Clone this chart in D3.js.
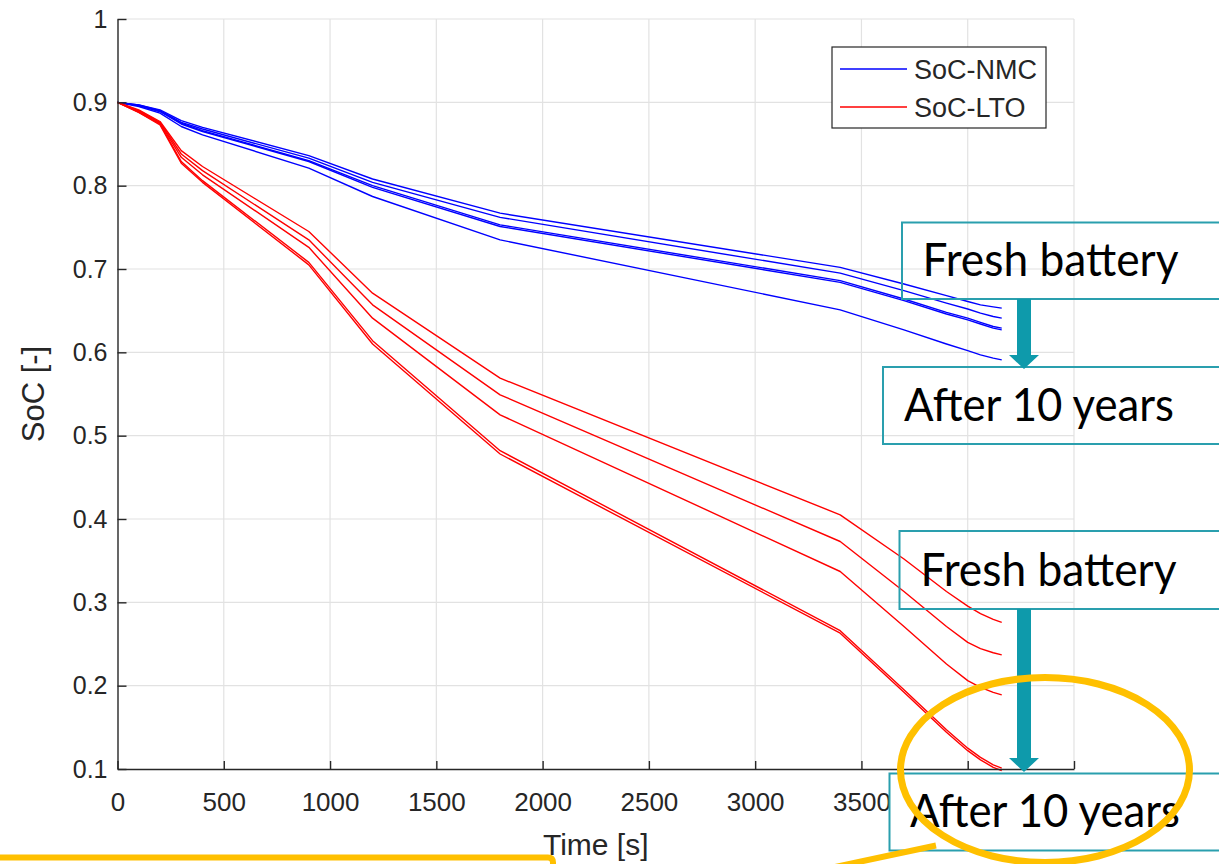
<!DOCTYPE html>
<html><head><meta charset="utf-8">
<script src="https://cdn.jsdelivr.net/npm/d3@7"></script>
<style>body{margin:0;background:#fff} svg{display:block}</style>
</head><body>
<svg id="c" width="1219" height="864"></svg>
<script>
// ---------- data ----------
const timeSec = [0, 100, 200, 300, 400, 900, 1200, 1800, 3400, 3700, 3900, 4000, 4060, 4120, 4160];
const socNMC = [
  [0.9, 0.897, 0.891, 0.878, 0.870, 0.836, 0.808, 0.767, 0.702, 0.682, 0.668, 0.661, 0.657, 0.6545, 0.653],
  [0.9, 0.897, 0.890, 0.876, 0.868, 0.833, 0.804, 0.762, 0.695, 0.674, 0.659, 0.652, 0.647, 0.643, 0.641],
  [0.9, 0.896, 0.889, 0.875, 0.866, 0.830, 0.800, 0.753, 0.686, 0.664, 0.648, 0.641, 0.636, 0.631, 0.629],
  [0.9, 0.896, 0.889, 0.874, 0.865, 0.829, 0.798, 0.751, 0.684, 0.662, 0.646, 0.639, 0.634, 0.629, 0.627],
  [0.9, 0.895, 0.887, 0.871, 0.861, 0.821, 0.787, 0.735, 0.651, 0.627, 0.610, 0.602, 0.597, 0.593, 0.591]
];
const socLTO = [
  [0.9, 0.891, 0.877, 0.842, 0.823, 0.745, 0.671, 0.569, 0.405, 0.352, 0.313, 0.2955, 0.2865, 0.2795, 0.276],
  [0.9, 0.890, 0.876, 0.838, 0.818, 0.735, 0.657, 0.549, 0.373, 0.313, 0.271, 0.252, 0.2445, 0.2395, 0.237],
  [0.9, 0.889, 0.875, 0.834, 0.813, 0.726, 0.641, 0.525, 0.337, 0.271, 0.226, 0.206, 0.198, 0.192, 0.189],
  [0.9, 0.888, 0.874, 0.829, 0.806, 0.708, 0.614, 0.482, 0.266, 0.195, 0.147, 0.125, 0.114, 0.105, 0.101],
  [0.9, 0.888, 0.873, 0.827, 0.804, 0.705, 0.610, 0.478, 0.263, 0.192, 0.144, 0.122, 0.111, 0.102, 0.098]
];
const xTicks = [0, 500, 1000, 1500, 2000, 2500, 3000, 3500, 4000, 4500];
const xTickLabels = ["0", "500", "1000", "1500", "2000", "2500", "3000", "3500", "", ""]; // last two hidden behind the overlay box
const yTicks = [0.1, 0.2, 0.3, 0.4, 0.5, 0.6, 0.7, 0.8, 0.9, 1];
const yTickLabels = ["0.1", "0.2", "0.3", "0.4", "0.5", "0.6", "0.7", "0.8", "0.9", "1"];
const legendLabels = ["SoC-NMC", "SoC-LTO"];
const seriesColors = ["#0000ff", "#ff0000"];
const annotationTexts = ["Fresh battery", "After 10 years", "Fresh battery", "After 10 years"];
const xLabel = "Time [s]";
const yLabel = "SoC [-]";

// ---------- layout ----------
const svg = d3.select("#c");
const x = d3.scaleLinear().domain([0, 4500]).range([117.5, 1074]);
const y = d3.scaleLinear().domain([0.1, 1]).range([769, 19]);
const axisColor = "#262626";
const gridColor = "#e2e2e2";
const teal = "#0e9aab";
const tealBorder = "#2a9fae";
const yellow = "#ffc000";

// grid
svg.append("g").selectAll("line").data(xTicks.slice(1)).join("line")
  .attr("x1", d => x(d)).attr("x2", d => x(d)).attr("y1", y(0.1)).attr("y2", y(1))
  .attr("stroke", gridColor).attr("stroke-width", 1.2);
svg.append("g").selectAll("line").data(yTicks.slice(1)).join("line")
  .attr("x1", x(0)).attr("x2", x(4500)).attr("y1", d => y(d)).attr("y2", d => y(d))
  .attr("stroke", gridColor).attr("stroke-width", 1.2);

// lines
const line = d3.line().x((d, i) => x(timeSec[i])).y(d => y(d)).curve(d3.curveLinear);
[socNMC, socLTO].forEach((set, k) => {
  svg.append("g").selectAll("path").data(set).join("path")
    .attr("d", line).attr("fill", "none").attr("stroke-linejoin", "round")
    .attr("stroke", seriesColors[k]).attr("stroke-width", 1.4);
});

// axes
const fontAx = "'Liberation Sans', Arial, Helvetica, sans-serif";
const gx = svg.append("g").attr("transform", `translate(0,${y(0.1)})`)
  .call(d3.axisBottom(x).tickValues(xTicks).tickFormat((d, i) => xTickLabels[i])
    .tickSizeInner(-8).tickSizeOuter(0).tickPadding(24));
const gy = svg.append("g").attr("transform", `translate(${x(0)},0)`)
  .call(d3.axisLeft(y).tickValues(yTicks).tickFormat((d, i) => yTickLabels[i])
    .tickSizeInner(-9).tickSizeOuter(0).tickPadding(10));
[gx, gy].forEach(g => {
  g.select(".domain").attr("stroke", axisColor).attr("stroke-width", 1.4);
  g.selectAll(".tick line").attr("stroke", axisColor).attr("stroke-width", 1.4);
  g.selectAll(".tick text").attr("fill", axisColor).attr("font-family", fontAx);
});
gx.selectAll(".tick text").attr("font-size", 26);
gy.selectAll(".tick text").attr("font-size", 25);

svg.append("text").attr("x", x(2250)).attr("y", 855).attr("text-anchor", "middle")
  .attr("font-family", fontAx).attr("font-size", 30).attr("fill", axisColor).text(xLabel);
svg.append("text").attr("transform", `translate(44,${y(0.55)}) rotate(-90)`).attr("text-anchor", "middle")
  .attr("font-family", fontAx).attr("font-size", 31).attr("fill", axisColor).text(yLabel);

// legend
const lg = svg.append("g");
lg.append("rect").attr("x", 832).attr("y", 47).attr("width", 214).attr("height", 81)
  .attr("fill", "#fff").attr("stroke", axisColor).attr("stroke-width", 1.2);
legendLabels.forEach((lab, i) => {
  const cy = 69 + i * 38;
  lg.append("line").attr("x1", 840).attr("x2", 907).attr("y1", cy).attr("y2", cy)
    .attr("stroke", seriesColors[i]).attr("stroke-width", 1.3);
  lg.append("text").attr("x", 914).attr("y", cy + 10).attr("font-family", fontAx)
    .attr("font-size", 27).attr("fill", axisColor).text(lab);
});

// annotations (overlay)
const boxes = [
  {x: 902, y: 222.5, h: 76.5, fill: "none", tx: 922.5, ty: 276, tw: 256},
  {x: 883, y: 367, h: 77, fill: "none", tx: 904, ty: 421, tw: 270},
  {x: 899.5, y: 531, h: 78, fill: "none", tx: 920.5, ty: 586, tw: 256},
  {x: 889.5, y: 773.5, h: 77, fill: "#fff", tx: 910, ty: 827, tw: 270}
];
const arrows = [{y0: 299, y1: 355, tip: 369}, {y0: 609, y1: 758, tip: 772}];
const ann = svg.append("g");
boxes.forEach((b, i) => {
  ann.append("rect").attr("x", b.x).attr("y", b.y).attr("width", 1250 - b.x).attr("height", b.h)
    .attr("fill", b.fill).attr("stroke", tealBorder).attr("stroke-width", 2);
  ann.append("text").attr("x", b.tx).attr("y", b.ty)
    .attr("font-family", "Lato, 'Open Sans', sans-serif").attr("font-size", 46)
    .attr("textLength", b.tw).attr("lengthAdjust", "spacingAndGlyphs")
    .attr("fill", "#000").text(annotationTexts[i]);
});
arrows.forEach(a => {
  ann.append("path")
    .attr("d", `M1017,${a.y0} L1031,${a.y0} L1031,${a.y1} L1039,${a.y1} L1024,${a.tip} L1009,${a.y1} L1017,${a.y1} Z`)
    .attr("fill", teal);
});
ann.append("ellipse").attr("cx", 1045).attr("cy", 770).attr("rx", 144.5).attr("ry", 92.5)
  .attr("fill", "none").attr("stroke", yellow).attr("stroke-width", 7);
ann.append("line").attr("x1", 936).attr("y1", 845.5).attr("x2", 835).attr("y2", 867)
  .attr("stroke", yellow).attr("stroke-width", 6);
ann.append("path").attr("d", "M-10,857.5 L548,857.5 Q553,857.5 553,862.5 L553,875")
  .attr("fill", "none").attr("stroke", yellow).attr("stroke-width", 6);
</script>
</body></html>
